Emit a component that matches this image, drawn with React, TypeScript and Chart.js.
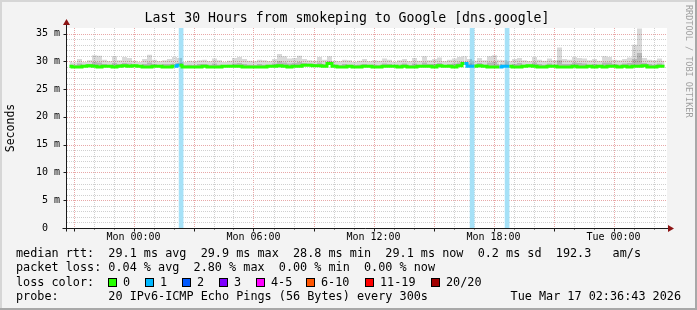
import React, { useEffect, useRef } from "react";
import { Chart, registerables } from "chart.js";

Chart.register(...registerables);

const W = 697;
const H = 310;

// time axis: hours relative to Mon 00:00
const X_START = -3.325;
const X_END = 26.675;
const STEP = 0.25; // 15 minute samples
const Y_MAX = 36; // ms

const title = "Last 30 Hours from smokeping to Google [dns.google]";
const yAxisTitle = "Seconds";
const watermark = "RRDTOOL / TOBI OETIKER";

const xTickValues = [0, 6, 12, 18, 24];
const xTickLabels = ["Mon 00:00", "Mon 06:00", "Mon 12:00", "Mon 18:00", "Tue 00:00"];
const yTickValues = [0, 5, 10, 15, 20, 25, 30, 35];
const yTickLabels = ["0  ", "5 m", "10 m", "15 m", "20 m", "25 m", "30 m", "35 m"];

// median RTT (ms), one value per 15 minutes
const medianRtt = [
  29.1, 29.0, 29.0, 29.1, 29.2, 29.1, 29.0, 29.1, 29.1, 29.0,
  29.1, 29.2, 29.1, 29.2, 29.1, 29.0, 29.0, 29.1, 29.1, 29.0,
  29.0, 29.1, 29.3, 29.0, 29.0, 29.0, 29.0, 29.1, 29.0, 29.0,
  29.0, 29.1, 29.1, 29.1, 29.1, 29.0, 29.0, 29.0, 29.0, 29.0,
  29.1, 29.1, 29.2, 29.1, 29.0, 29.1, 29.1, 29.3, 29.3, 29.2,
  29.2, 29.1, 29.6, 29.1, 29.0, 29.0, 29.1, 29.0, 29.0, 29.1,
  29.1, 29.0, 29.0, 29.1, 29.1, 29.1, 29.0, 29.1, 29.0, 29.0,
  29.1, 29.1, 29.1, 29.0, 29.2, 29.1, 29.1, 29.0, 29.2, 29.6,
  29.1, 29.1, 29.2, 29.1, 29.0, 29.0, 29.0, 29.1, 29.1, 29.0,
  29.0, 29.1, 29.2, 29.1, 29.0, 29.0, 29.1, 29.1, 29.0, 29.0,
  29.0, 29.1, 29.0, 29.0, 29.1, 29.0, 29.1, 29.0, 29.1, 29.1,
  29.0, 29.1, 29.0, 29.1, 29.1, 29.2, 29.0, 29.0, 29.1, 29.1,
];

// dense part of the smoke (ms)
const smokeInner = [
  29.4, 29.3, 29.6, 29.4, 29.5, 29.9, 29.8, 29.5, 29.4, 29.7,
  29.5, 29.7, 29.6, 29.4, 29.3, 29.5, 29.8, 29.5, 29.4, 29.5,
  29.5, 29.6, 29.7, 29.3, 29.4, 29.3, 29.5, 29.5, 29.4, 29.6,
  29.4, 29.3, 29.4, 29.6, 29.7, 29.5, 29.4, 29.3, 29.5, 29.4,
  29.4, 29.6, 30.0, 29.8, 29.6, 29.7, 29.9, 29.7, 29.6, 29.5,
  29.8, 29.5, 30.0, 29.4, 29.3, 29.5, 29.4, 29.3, 29.4, 29.5,
  29.4, 29.4, 29.3, 29.6, 29.5, 29.3, 29.4, 29.6, 29.3, 29.6,
  29.4, 29.8, 29.5, 29.5, 29.7, 29.3, 29.5, 29.6, 29.8, 29.9,
  29.6, 29.4, 29.7, 29.4, 29.8, 29.9, 29.5, 29.4, 29.3, 29.5,
  29.7, 29.4, 29.4, 29.8, 29.5, 29.4, 29.6, 29.4, 30.2, 29.5,
  29.5, 29.8, 29.7, 29.6, 29.4, 29.5, 29.4, 29.8, 29.8, 29.5,
  29.4, 29.6, 29.7, 30.4, 31.5, 29.7, 29.5, 29.4, 29.6, 29.4,
];

// maximum ping of each sample (ms)
const smokeMax = [
  30.0, 29.8, 30.4, 29.9, 30.2, 31.1, 31.0, 30.3, 30.0, 30.9,
  30.2, 30.8, 30.6, 30.1, 29.9, 30.4, 31.2, 30.3, 30.0, 30.2,
  30.4, 30.8, 30.6, 29.9, 30.1, 30.0, 30.2, 30.3, 30.0, 30.5,
  30.2, 29.9, 30.1, 30.6, 30.8, 30.4, 30.1, 30.0, 30.3, 30.2,
  30.0, 30.4, 31.3, 30.9, 30.5, 30.6, 31.0, 30.4, 30.2, 30.1,
  30.8, 30.3, 30.9, 30.1, 30.0, 30.3, 30.2, 29.9, 30.1, 30.4,
  30.0, 30.2, 30.1, 30.5, 30.3, 29.9, 30.2, 30.4, 30.0, 30.6,
  30.1, 30.9, 30.2, 30.4, 30.7, 30.0, 30.3, 30.5, 30.8, 30.9,
  30.4, 30.1, 30.6, 30.2, 30.9, 31.1, 30.3, 30.2, 30.0, 30.4,
  30.6, 30.2, 30.0, 30.8, 30.3, 30.1, 30.5, 30.2, 32.5, 30.4,
  30.3, 30.8, 30.6, 30.5, 30.2, 30.4, 30.1, 30.9, 30.8, 30.3,
  30.2, 30.4, 30.7, 33.0, 35.9, 30.6, 30.3, 30.2, 30.5, 30.1,
];

// packet loss events (hour relative to Mon 00:00, lost pings)
const lossTimes = [2.38, 16.93, 18.68];
const lossCounts = [1, 1, 1];

const lossLabels = ["0", "1", "2", "3", "4-5", "6-10", "11-19", "20/20"];
const lossColors = ["#26ff00", "#00b8ff", "#0059ff", "#7e00ff", "#ff00ff", "#ff5500", "#ff0000", "#a10000"];

const rttRow = "median rtt:  29.1 ms avg  29.9 ms max  28.8 ms min  29.1 ms now  0.2 ms sd  192.3   am/s";
const lossRow = "packet loss: 0.04 % avg  2.80 % max  0.00 % min  0.00 % now";
const colorRowLabel = "loss color:";
const probeRow = "probe:       20 IPv6-ICMP Echo Pings (56 Bytes) every 300s";
const dateText = "Tue Mar 17 02:36:43 2026";

// layout (pixels)
const swatchX = [108, 145, 182, 219, 256, 306, 365, 431];
const rowY = [253.5, 268, 282.5, 296.5];

const FONT = "'DejaVu Sans Mono', monospace";

const sampleTimes = medianRtt.map((_, i) => X_START + (i + 0.5) * STEP);
const lossColorFor = (n: number) => lossColors[Math.min(n, 1)];
const lossAt = (x: number) => {
  for (let k = 0; k < lossTimes.length; k++) {
    if (Math.abs(lossTimes[k] - x) < 0.13) return lossCounts[k];
  }
  return 0;
};

const rrdPlugin = {
  id: "rrdLook",
  beforeDraw(chart: any) {
    const { ctx, chartArea: a } = chart;
    ctx.save();
    ctx.fillStyle = "#f3f3f3";
    ctx.fillRect(0, 0, W, H);
    ctx.fillStyle = "#d6d6d6";
    ctx.fillRect(0, 0, W, 2);
    ctx.fillRect(0, 0, 2, H);
    ctx.fillStyle = "#a8a8a8";
    ctx.fillRect(0, H - 2, W, 2);
    ctx.fillRect(W - 2, 0, 2, H);
    ctx.fillStyle = "#ffffff";
    ctx.fillRect(a.left, a.top, a.right - a.left, a.bottom - a.top);
    ctx.restore();
  },
  beforeDatasetsDraw(chart: any) {
    const { ctx, chartArea: a } = chart;
    const xs = chart.scales.x;
    const ys = chart.scales.y;
    ctx.save();
    ctx.lineWidth = 1;
    ctx.setLineDash([1, 1]);
    for (let h = Math.ceil(X_START); h <= Math.floor(X_END); h++) {
      const px = Math.round(xs.getPixelForValue(h)) + 0.5;
      ctx.strokeStyle = h % 3 === 0 ? "#e8a8a8" : "#d0d0d0";
      ctx.beginPath();
      ctx.moveTo(px, a.top);
      ctx.lineTo(px, a.bottom);
      ctx.stroke();
    }
    for (let v = 1; v < Y_MAX; v++) {
      const py = Math.round(ys.getPixelForValue(v)) + 0.5;
      ctx.strokeStyle = v % 5 === 0 ? "#e8a8a8" : "#d0d0d0";
      ctx.beginPath();
      ctx.moveTo(a.left, py);
      ctx.lineTo(a.right, py);
      ctx.stroke();
    }
    ctx.restore();
  },
  afterDatasetsDraw(chart: any) {
    const { ctx, chartArea: a } = chart;
    const xs = chart.scales.x;
    const ys = chart.scales.y;
    const ax = Math.round(a.left) - 0.5;
    const ay = Math.round(a.bottom) + 0.5;
    ctx.save();
    ctx.strokeStyle = "#1a1a1a";
    ctx.lineWidth = 1;
    ctx.setLineDash([]);
    ctx.beginPath();
    ctx.moveTo(ax, ay + 3);
    ctx.lineTo(ax, a.top - 5);
    ctx.moveTo(ax - 4, ay);
    ctx.lineTo(a.right + 2, ay);
    for (let h = Math.ceil(X_START); h <= Math.floor(X_END); h++) {
      const px = Math.round(xs.getPixelForValue(h)) + 0.5;
      const len = h % 3 === 0 ? 3 : 1;
      ctx.moveTo(px, ay);
      ctx.lineTo(px, ay + len);
    }
    for (let v = 5; v < Y_MAX; v += 5) {
      const py = Math.round(ys.getPixelForValue(v)) + 0.5;
      ctx.moveTo(ax - 3, py);
      ctx.lineTo(ax, py);
    }
    ctx.stroke();
    ctx.fillStyle = "#8c1414";
    ctx.beginPath();
    ctx.moveTo(ax - 3.5, a.top - 3);
    ctx.lineTo(ax + 3.5, a.top - 3);
    ctx.lineTo(ax, a.top - 9);
    ctx.closePath();
    ctx.fill();
    ctx.beginPath();
    ctx.moveTo(a.right + 1, ay - 3.5);
    ctx.lineTo(a.right + 1, ay + 3.5);
    ctx.lineTo(a.right + 7, ay);
    ctx.closePath();
    ctx.fill();
    ctx.restore();
  },
  afterDraw(chart: any) {
    const { ctx } = chart;
    ctx.save();
    ctx.fillStyle = "#000000";
    ctx.textBaseline = "middle";
    ctx.font = `13.2px ${FONT}`;
    ctx.textAlign = "center";
    ctx.fillText(title, 347, 18.5);
    ctx.font = `11.5px ${FONT}`;
    ctx.save();
    ctx.translate(11, 128);
    ctx.rotate(-Math.PI / 2);
    ctx.fillText(yAxisTitle, 0, 0);
    ctx.restore();
    ctx.save();
    ctx.fillStyle = "#a0a0a0";
    ctx.font = `8.5px ${FONT}`;
    ctx.textAlign = "left";
    ctx.translate(688.5, 5);
    ctx.rotate(Math.PI / 2);
    ctx.fillText(watermark, 0, 0);
    ctx.restore();
    ctx.font = `11.8px ${FONT}`;
    ctx.textAlign = "left";
    ctx.fillText(rttRow, 16, rowY[0]);
    ctx.fillText(lossRow, 16, rowY[1]);
    ctx.fillText(colorRowLabel, 16, rowY[2]);
    lossLabels.forEach((s, i) => {
      const sx = swatchX[i];
      ctx.fillStyle = lossColors[i];
      ctx.fillRect(sx, rowY[2] - 4.5, 9, 9);
      ctx.strokeStyle = "#000000";
      ctx.lineWidth = 1;
      ctx.strokeRect(sx + 0.5, rowY[2] - 4, 8, 8);
      ctx.fillStyle = "#000000";
      ctx.fillText(s, sx + 15, rowY[2]);
    });
    ctx.fillText(probeRow, 16, rowY[3]);
    ctx.textAlign = "right";
    ctx.fillText(dateText, 681, rowY[3]);
    ctx.restore();
  },
};

export default function App() {
  const ref = useRef<HTMLCanvasElement | null>(null);

  useEffect(() => {
    document.body.style.margin = "0";
    const canvas = ref.current;
    if (!canvas) return;
    const chart = new Chart(canvas, {
      type: "line",
      data: {
        datasets: [
          {
            type: "line",
            label: "median rtt",
            data: sampleTimes.map((t, i) => ({ x: t, y: medianRtt[i] })),
            borderColor: lossColors[0],
            borderWidth: 3,
            stepped: "middle",
            pointRadius: 0,
            fill: false,
            order: 0,
            segment: {
              borderColor: (c: any) => {
                const n = lossAt(c.p1.parsed.x);
                return n > 0 ? lossColorFor(n) : undefined;
              },
            },
          } as any,
          {
            type: "line",
            label: "smoke dense",
            data: sampleTimes.map((t, i) => ({ x: t, y: smokeInner[i] })),
            borderWidth: 0,
            borderColor: "rgba(0,0,0,0)",
            backgroundColor: "rgba(0,0,0,0.16)",
            stepped: "middle",
            pointRadius: 0,
            fill: "-1",
            order: 1,
          } as any,
          {
            type: "line",
            label: "smoke",
            data: sampleTimes.map((t, i) => ({ x: t, y: smokeMax[i] })),
            borderWidth: 0,
            borderColor: "rgba(0,0,0,0)",
            backgroundColor: "rgba(0,0,0,0.15)",
            stepped: "middle",
            pointRadius: 0,
            fill: "-2",
            order: 2,
          } as any,
          {
            type: "bar",
            label: "loss",
            data: lossTimes.map((t, i) => ({ x: t, y: lossCounts[i] > 0 ? Y_MAX : 0 })),
            backgroundColor: "#a6e1f7",
            borderWidth: 0,
            barThickness: 4,
            order: 3,
          } as any,
        ],
      },
      options: {
        animation: false,
        responsive: false,
        devicePixelRatio: 1,
        layout: { padding: { top: 28, right: 30, left: 0, bottom: 0 } },
        plugins: {
          legend: { display: false },
          title: { display: false },
          tooltip: { enabled: false },
        },
        scales: {
          x: {
            type: "linear",
            min: X_START,
            max: X_END,
            offset: false,
            grid: { display: false, drawTicks: false },
            border: { display: false },
            afterBuildTicks: (s: any) => {
              s.ticks = xTickValues.map((v) => ({ value: v }));
            },
            ticks: {
              autoSkip: false,
              maxRotation: 0,
              padding: 3,
              color: "#000000",
              font: { family: "DejaVu Sans Mono", size: 10 },
              callback: (v: any, i: number) => xTickLabels[i] ?? "",
            },
            afterFit: (s: any) => {
              s.height = 82;
            },
          },
          y: {
            type: "linear",
            min: 0,
            max: Y_MAX,
            grid: { display: false, drawTicks: false },
            border: { display: false },
            afterBuildTicks: (s: any) => {
              s.ticks = yTickValues.map((v) => ({ value: v }));
            },
            ticks: {
              autoSkip: false,
              padding: 7,
              color: "#000000",
              font: { family: "DejaVu Sans Mono", size: 10 },
              callback: (v: any, i: number) => yTickLabels[i] ?? "",
            },
            afterFit: (s: any) => {
              s.width = 67;
            },
          },
        },
      } as any,
      plugins: [rrdPlugin],
    });
    return () => chart.destroy();
  }, []);

  return (
    <canvas
      ref={ref}
      width={W}
      height={H}
      style={{ display: "block", width: W, height: H }}
    />
  );
}
